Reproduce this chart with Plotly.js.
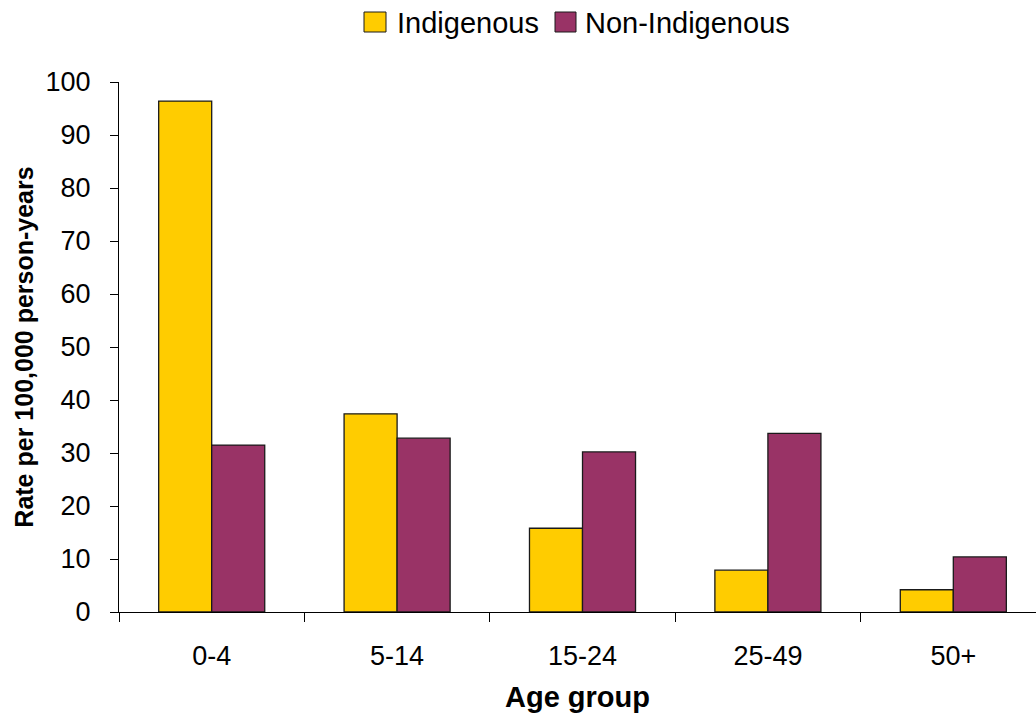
<!DOCTYPE html>
<html>
<head>
<meta charset="utf-8">
<script src="https://cdn.plot.ly/plotly-3.0.1.min.js"></script>
<style>html,body{margin:0;padding:0;background:#fff;}#chart{width:1036px;height:720px;}</style>
</head>
<body>
<div id="chart"></div>
<script>
var ageGroups = ["0-4", "5-14", "15-24", "25-49", "50+"];
var indigenous = [96.4, 37.4, 15.8, 7.9, 4.2];
var nonIndigenous = [31.5, 32.8, 30.2, 33.7, 10.4];
var seriesNames = ["Indigenous", "Non-Indigenous"];
var seriesColors = ["#FFCC00", "#993366"];
var yTicks = [0, 10, 20, 30, 40, 50, 60, 70, 80, 90, 100];

var FONT = "Liberation Sans, Arial, sans-serif";

var traces = [
  {type: "bar", name: seriesNames[0], x: ageGroups, y: indigenous, showlegend: false,
   marker: {color: seriesColors[0], line: {color: "#1a1a1a", width: 1.3}}},
  {type: "bar", name: seriesNames[1], x: ageGroups, y: nonIndigenous, showlegend: false,
   marker: {color: seriesColors[1], line: {color: "#1a1a1a", width: 1.3}}}
];

// Legend drawn in paper coordinates (plot area: 917 x 530 px, origin at 119,612)
var PW = 917, PH = 530, L0 = 119, B0 = 612;
function px(x) { return (x - L0) / PW; }
function py(y) { return (B0 - y) / PH; }
var legendItems = [
  {sx0: 364, sx1: 386, tx: 395},
  {sx0: 555, sx1: 576, tx: 583}
];
var shapes = [], annotations = [];
legendItems.forEach(function (it, i) {
  shapes.push({type: "rect", xref: "paper", yref: "paper",
    x0: px(it.sx0), x1: px(it.sx1), y0: py(32), y1: py(12),
    fillcolor: seriesColors[i], line: {color: "#1a1a1a", width: 1}});
  annotations.push({xref: "paper", yref: "paper", x: px(it.tx), y: py(23),
    xanchor: "left", yanchor: "middle", showarrow: false, text: seriesNames[i],
    font: {family: FONT, size: 29, color: "#000"}});
});

var layout = {
  width: 1036, height: 720,
  paper_bgcolor: "#fff", plot_bgcolor: "#fff",
  margin: {l: 119, r: 0, t: 82, b: 108, pad: 0},
  barmode: "group", bargap: 0.428, bargroupgap: 0,
  font: {family: FONT, color: "#000", size: 27},
  showlegend: false,
  shapes: shapes,
  annotations: annotations,
  xaxis: {type: "category", range: [-0.5, 4.446], showline: true, linecolor: "#000", linewidth: 1,
          ticks: "outside", tickson: "boundaries", ticklen: 9, tickcolor: "#000", tickwidth: 1,
          ticklabelstandoff: 20,
          tickfont: {family: FONT, size: 27, color: "#000"}, showgrid: false, zeroline: false,
          title: {text: "<b>Age group</b>", font: {family: FONT, size: 29, color: "#000"}, standoff: 16},
          fixedrange: true},
  yaxis: {range: [0, 100], tickvals: yTicks, showline: true, linecolor: "#000", linewidth: 1,
          ticks: "outside", ticklen: 8, tickcolor: "#000", tickwidth: 1,
          ticklabelstandoff: 14,
          tickfont: {family: FONT, size: 27, color: "#000"}, showgrid: false, zeroline: false,
          title: {text: "<b>Rate per 100,000 person-years</b>", font: {family: FONT, size: 25, color: "#000"}, standoff: 4},
          fixedrange: true}
};

Plotly.newPlot("chart", traces, layout, {displayModeBar: false, staticPlot: true});
</script>
</body>
</html>
